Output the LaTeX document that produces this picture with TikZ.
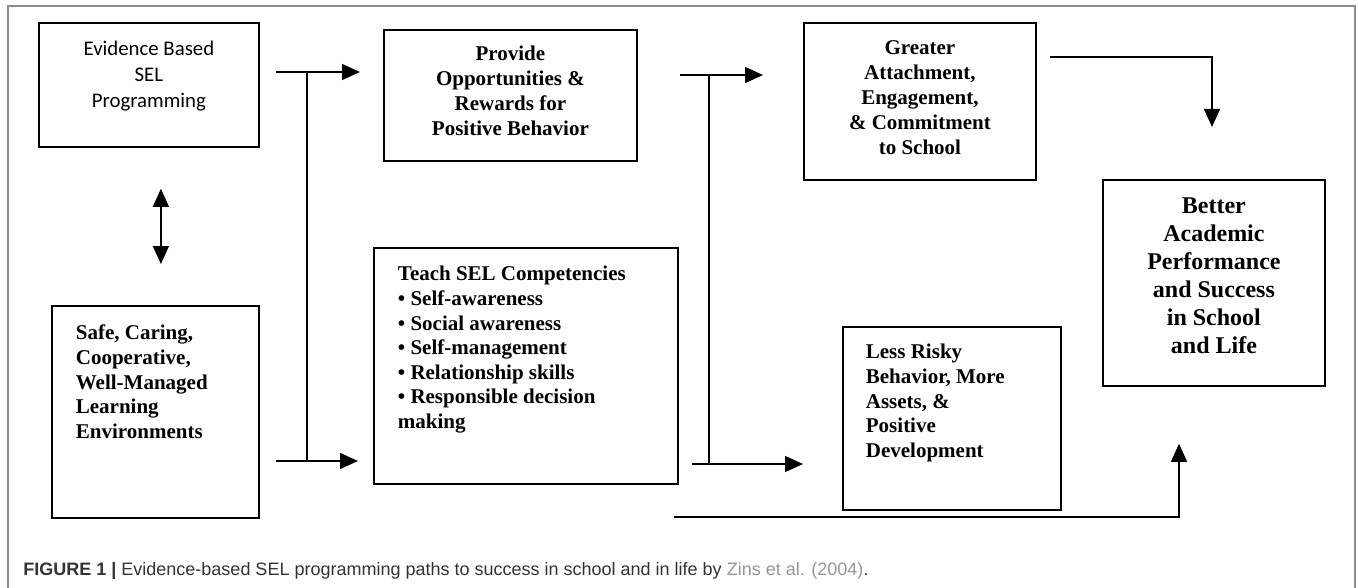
\documentclass[tikz,border=0pt]{standalone}
\usepackage{fontspec}
\setmainfont{Liberation Serif}
\setsansfont{Liberation Sans}
\newfontfamily\calibrifont{Carlito}
\usepackage{tikz}
\usetikzlibrary{
  arrows.meta,
  calc
}
\usepackage{xcolor}
\definecolor{framegray}{RGB}{140, 140, 140}
\definecolor{captext}  {RGB}{ 51,  51,  51}
\definecolor{citegray} {RGB}{150, 150, 150}
\tikzset{
  stage/.style={
    draw=black, line width=0.9pt, inner sep=0pt,
    anchor=north west,
    font=\bfseries\fontsize{10.5}{12.3}\selectfont
  },
  stageleft/.style={
    stage, inner xsep=12pt
  },
  flow/.style={
    line width=0.7pt, -{Triangle[length=9pt, width=8pt]}
  },
  bus/.style={
    line width=0.7pt
  },
}

\begin{document}
\begin{tikzpicture}[x=0.5pt, y=-0.5pt]

\useasboundingbox (0,0) rectangle (1358,588);

% ── Frame ─────────────────────────────────────────────────────────────────────
\draw[framegray, line width=0.7pt] (8,588) -- (8,6) -- (1355,6) -- (1355,588);

% ── Boxes ─────────────────────────────────────────────────────────────────────
\node[stage, font=\calibrifont\fontsize{10.4}{13}\selectfont] (evid) at (38,22) {%
  \parbox[c][62pt][t]{110pt}{\centering\rule{0pt}{16.5pt}Evidence Based\\SEL\\Programming}};

\node[stageleft] (safe) at (51,305) {%
  \parbox[c][106pt][t]{79.5pt}{\raggedright\rule{0pt}{17pt}Safe, Caring,\\Cooperative,\\
    Well-Managed\\Learning\\Environments}};

\node[stage, font=\bfseries\fontsize{10.5}{12.5}\selectfont] (prov) at (383,29) {%
  \parbox[c][65.5pt][t]{126.5pt}{\centering\rule{0pt}{15.5pt}Provide\\Opportunities \&\\
    Rewards for\\Positive Behavior}};

\node[stageleft] (teach) at (373,247) {%
  \parbox[c][118pt][t]{128pt}{\raggedright\rule{0pt}{16.5pt}Teach SEL Competencies\\
    • Self-awareness\\• Social awareness\\• Self-management\\
    • Relationship skills\\• Responsible decision\\making}};

\node[stage, font=\bfseries\fontsize{10.5}{12.4}\selectfont] (great) at (803,22) {%
  \parbox[c][78.5pt][t]{116pt}{\centering\rule{0pt}{16pt}Greater\\Attachment,\\
    Engagement,\\\& Commitment\\to School}};

\node[stageleft, inner xsep=11.5pt] (risky) at (842,326) {%
  \parbox[c][91.5pt][t]{86pt}{\raggedright\rule{0pt}{16pt}Less Risky\\Behavior, More\\
    Assets, \&\\Positive\\Development}};

\node[stage, font=\bfseries\fontsize{12}{14}\selectfont] (better) at (1102,179) {%
  \parbox[c][103pt][t]{111pt}{\centering\rule{0pt}{17pt}Better\\Academic\\Performance\\
    and Success\\in School\\and Life}};

% ── Two-way arrow ─────────────────────────────────────────────────────────────
\draw[line width=0.7pt,
      {Triangle[length=9pt, width=8pt]}-{Triangle[length=9pt, width=8pt]},
      shorten <=20.5pt, shorten >=20.5pt]
  ([xshift=6pt]evid.south) -- ([xshift=6pt]evid.south |- safe.north);

% ── First bus ─────────────────────────────────────────────────────────────────
\coordinate (busAtop) at (307,72);
\coordinate (busAbot) at (307,461);
\draw[bus] (busAtop) -- (busAbot);
\draw[flow, shorten >=11.5pt] ([xshift=8pt]evid.east |- busAtop) -- (busAtop -| prov.west);
\draw[flow, shorten >=7.5pt]  ([xshift=8pt]safe.east |- busAbot) -- (busAbot -| teach.west);

% ── Second bus ────────────────────────────────────────────────────────────────
\coordinate (busBtop) at (709,75);
\coordinate (busBbot) at (709,464);
\draw[bus] (busBtop) -- (busBbot);
\draw[flow, shorten >=20pt]   ([xshift=21pt]prov.east |- busBtop)   -- (busBtop -| great.west);
\draw[flow, shorten >=19.5pt] ([xshift=6.5pt]teach.east |- busBbot) -- (busBbot -| risky.west);

% ── Into the outcome box ──────────────────────────────────────────────────────
\coordinate (topTurn) at (1212,57);
\draw[flow, shorten >=26pt]
  ([xshift=6.5pt]great.east |- topTurn) -- (topTurn) -- (topTurn |- better.north);

\coordinate (lowStart) at (674,517);
\coordinate (lowTurn)  at (1179,517);
\draw[flow, shorten >=28.5pt]
  (lowStart) -- (lowTurn) -- (lowTurn |- better.south);

% ── Caption ───────────────────────────────────────────────────────────────────
\node[anchor=base west, inner sep=0pt, text=captext,
      font=\sffamily\fontsize{9}{11}\selectfont] (caption) at (23,575) {%
  \textbf{FIGURE 1 |} Evidence-based SEL programming paths to success in school
  and in life by \textcolor{citegray}{Zins et al. (2004)}.};

\end{tikzpicture}
\end{document}
